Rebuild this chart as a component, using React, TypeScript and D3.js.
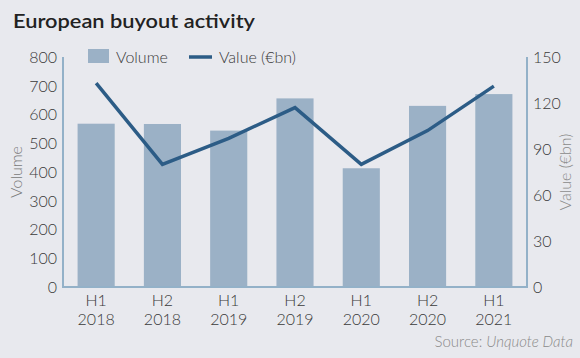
import React, { useEffect, useRef } from 'react';
import * as d3 from 'd3';

const periods = ['H1 2018', 'H2 2018', 'H1 2019', 'H2 2019', 'H1 2020', 'H2 2020', 'H1 2021'];
const volume = [568, 567, 544, 656, 413, 630, 671];
const valueBn = [133, 80, 97, 117, 80, 102, 131];
const volumeTicks = [0, 100, 200, 300, 400, 500, 600, 700, 800];
const valueTicks = [0, 30, 60, 90, 120, 150];

const W = 580;
const H = 358;
const FONT = 'Lato, "Open Sans", sans-serif';

const App = () => {
  const ref = useRef<SVGSVGElement>(null);

  useEffect(() => {
    const svg = d3.select(ref.current);
    svg.selectAll('*').remove();

    const left = 63;
    const right = 527;
    const top = 57;
    const bottom = 287;
    const axisColor = '#93b1c8';

    svg.append('rect').attr('width', W).attr('height', H).attr('fill', '#e8e9ee');

    // title
    svg.append('text')
      .attr('x', 13).attr('y', 28)
      .attr('font-size', 20).attr('font-weight', 600)
      .attr('textLength', 242).attr('lengthAdjust', 'spacingAndGlyphs')
      .attr('fill', '#222').text('European buyout activity');

    const x = d3.scaleBand().domain(periods).range([left, right]).paddingInner(0.44).paddingOuter(0.22);
    const yL = d3.scaleLinear().domain([0, 800]).range([bottom, top]);
    const yR = d3.scaleLinear().domain([0, 150]).range([bottom, top]);

    // bars
    svg.selectAll('.bar')
      .data(periods)
      .enter()
      .append('rect')
      .attr('class', 'bar')
      .attr('x', (d) => x(d)!)
      .attr('y', (d, i) => yL(volume[i]))
      .attr('width', x.bandwidth())
      .attr('height', (d, i) => bottom - yL(volume[i]))
      .attr('fill', '#9bb1c6');

    // axes lines
    svg.append('path')
      .attr('d', `M${left},${top}V${bottom}H${right}V${top}`)
      .attr('fill', 'none').attr('stroke', axisColor).attr('stroke-width', 2);

    // line
    const line = d3.line<number>()
      .x((d, i) => x(periods[i])! + x.bandwidth() / 2)
      .y((d) => yR(d));
    svg.append('path')
      .datum(valueBn)
      .attr('d', line)
      .attr('fill', 'none')
      .attr('stroke', '#2c5c86')
      .attr('stroke-width', 3.5);

    // left ticks
    svg.selectAll('.ytl')
      .data(volumeTicks)
      .enter()
      .append('text')
      .attr('x', left - 6)
      .attr('y', (d) => yL(d))
      .attr('dy', '0.36em')
      .attr('text-anchor', 'end')
      .attr('font-size', 16).attr('font-weight', 300).attr('fill', '#3a3a3a')
      .text((d) => d);

    // right ticks
    svg.selectAll('.ytr')
      .data(valueTicks)
      .enter()
      .append('text')
      .attr('x', right + 6)
      .attr('y', (d) => yR(d))
      .attr('dy', '0.36em')
      .attr('font-size', 16).attr('font-weight', 300).attr('fill', '#3a3a3a')
      .text((d) => d);

    // x labels
    const xl = svg.selectAll('.xl')
      .data(periods)
      .enter()
      .append('text')
      .attr('text-anchor', 'middle')
      .attr('font-size', 16).attr('font-weight', 300).attr('fill', '#3a3a3a');
    xl.append('tspan')
      .attr('x', (d) => x(d)! + x.bandwidth() / 2)
      .attr('y', 306)
      .text((d) => d.split(' ')[0]);
    xl.append('tspan')
      .attr('x', (d) => x(d)! + x.bandwidth() / 2)
      .attr('y', 325)
      .text((d) => d.split(' ')[1]);

    // axis titles
    svg.append('text')
      .attr('transform', `translate(22,172) rotate(-90)`)
      .attr('text-anchor', 'middle')
      .attr('font-size', 16).attr('font-weight', 300).attr('fill', '#7a7a7a')
      .text('Volume');
    svg.append('text')
      .attr('transform', `translate(571,172) rotate(-90)`)
      .attr('text-anchor', 'middle')
      .attr('font-size', 16).attr('font-weight', 300).attr('fill', '#8a8a8a')
      .text('Value (€bn)');

    // legend
    svg.append('rect').attr('x', 88).attr('y', 49).attr('width', 21).attr('height', 14).attr('fill', '#9bb1c6');
    svg.append('text').attr('x', 116).attr('y', 63).attr('font-size', 16).attr('font-weight', 300).attr('fill', '#3a3a3a').text('Volume');
    svg.append('line').attr('x1', 189).attr('x2', 212).attr('y1', 57).attr('y2', 57)
      .attr('stroke', '#2c5c86').attr('stroke-width', 3.5);
    svg.append('text').attr('x', 219).attr('y', 63).attr('font-size', 16).attr('font-weight', 300).attr('fill', '#3a3a3a').text('Value (€bn)');

    // source
    const src = svg.append('text')
      .attr('x', 573).attr('y', 347)
      .attr('text-anchor', 'end')
      .attr('font-size', 15).attr('font-weight', 300).attr('fill', '#8a8a8a');
    src.append('tspan').text('Source: ');
    src.append('tspan').attr('font-style', 'italic').text('Unquote Data');
  }, []);

  return (
    <svg
      ref={ref}
      width={W}
      height={H}
      style={{ position: 'absolute', left: 0, top: 0, fontFamily: FONT }}
    />
  );
};

export default App;
